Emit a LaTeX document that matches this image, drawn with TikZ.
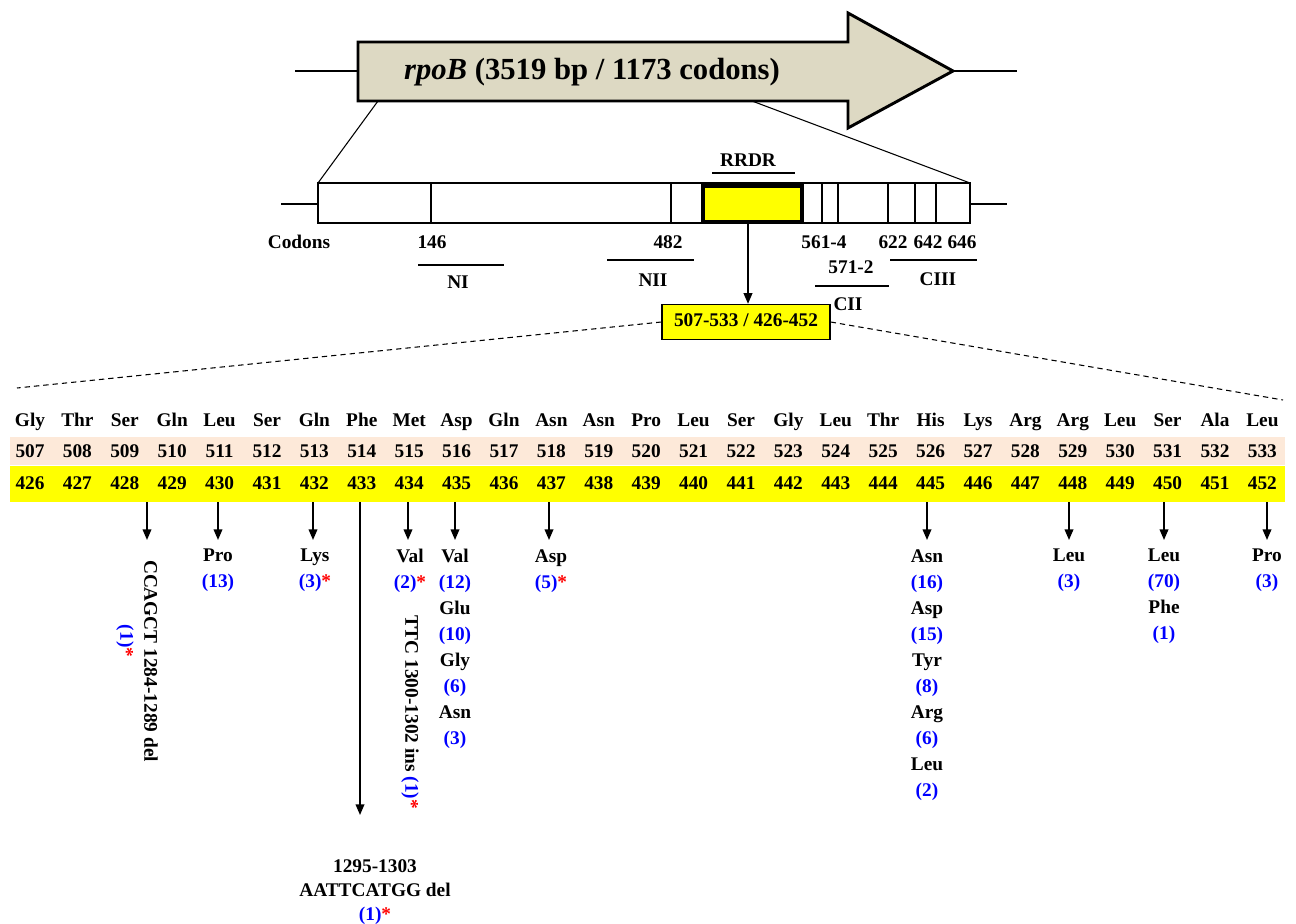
\documentclass[tikz,border=0pt]{standalone}
\usepackage{fontspec}
\setmainfont{Liberation Serif}
\usetikzlibrary{arrows.meta}
\definecolor{tanfill}{RGB}{221,217,195}
\definecolor{peach}{RGB}{253,233,217}
\definecolor{ylw}{RGB}{255,255,0}
\definecolor{cblue}{RGB}{0,0,255}
\definecolor{cred}{RGB}{255,0,0}
\newcommand{\cnt}[1]{\textcolor{cblue}{(#1)}}
\newcommand{\rst}{\textcolor{cred}{*}}
\begin{document}
\begin{tikzpicture}[x=0.75pt,y=-0.75pt,
  lbl/.style={font=\fontsize{14.5}{19.5}\bfseries\selectfont, inner sep=0pt, align=center},
  cell/.style={lbl, text height=10pt, text depth=3pt},
  title/.style={font=\fontsize{23}{27}\bfseries\selectfont, inner sep=0pt},
  thick line/.style={line width=1.8pt},
  thin line/.style={line width=0.8pt},
  arr/.style={line width=1.2pt, -{Triangle[length=8pt,width=6.5pt]}},
  dashline/.style={line width=0.8pt, dash pattern=on 4pt off 3pt}]
\useasboundingbox (0,0) rectangle (1296,924);

% ---- gene arrow ----
\coordinate (gl) at (295,71);
\coordinate (gr) at (1017,71);
\coordinate (ab1) at (358,71);
\coordinate (ab2) at (953,71);
\draw[line width=1.6pt] (gl) -- (ab1);
\draw[line width=1.6pt] (ab2) -- (gr);
\draw[line width=2.2pt, fill=tanfill, line join=miter]
  (358,42) -- (848,42) -- (848,13) -- (953,71) -- (848,128) -- (848,101) -- (358,101) -- cycle;
\node[title] (gname) at (592,72) {\textit{rpoB} (3519 bp / 1173 codons)};

% ---- zoom lines ----
\coordinate (zl1) at (378,101);
\coordinate (zr1) at (752,101);
\coordinate (bl) at (318,183);
\coordinate (br) at (970,183);
\draw[thin line] (zl1) -- (bl);
\draw[thin line] (zr1) -- (br);

% ---- gene map ----
\coordinate (ml) at (281,204);
\coordinate (mr) at (1007,204);
\draw[thick line] (ml) -- (318,204);
\draw[thick line] (970,204) -- (mr);
\fill[ylw] (703,185) rectangle (802,222);
\draw[line width=2.6pt] (703,186) rectangle (802,222);
\draw[thick line] (318,183) rectangle (970,223);
\foreach \xx in {431,671,822,838,888,915,936}
  \draw[line width=1.6pt] (\xx,183) -- (\xx,223);

\node[cell] (rrdr) at (748,162) {RRDR};
\draw[line width=1.6pt] (712,173) -- (795,173);

\node[cell] (codons) at (299,244) {Codons};
\node[cell] (c146) at (432,244) {146};
\node[cell] (c482) at (668,244) {482};
\node[cell] (c561) at (824,244) {561-4};
\node[cell] (c622) at (893,244) {622};
\node[cell] (c642) at (928,244) {642};
\node[cell] (c646) at (962,244) {646};

\draw[line width=1.6pt] (418,265) -- (504,265);
\node[cell] (ni) at (458,284) {NI};
\draw[line width=1.6pt] (607,260) -- (694,260);
\node[cell] (nii) at (653,282) {NII};
\node[cell] (c571) at (851,269) {571-2};
\draw[line width=1.6pt] (815,286) -- (889,286);
\node[cell] (cii) at (848,306) {CII};
\draw[line width=1.6pt] (890,260) -- (977,260);
\node[cell] (ciii) at (938,281) {CIII};

% ---- RRDR box ----
\node[cell, draw, line width=1pt, fill=ylw, minimum width=168*0.75pt, minimum height=35*0.75pt] (rbox) at (746,322) {507-533 / 426-452};
\coordinate (rtop) at (748,223);
\draw[arr] (rtop) -- (rtop |- rbox.north);

\coordinate (dl) at (17,388);
\coordinate (dr) at (1283,400);
\draw[dashline] (rbox.west) -- (dl);
\draw[dashline] (rbox.east) -- (dr);

% ---- table ----
\node[fill=peach, inner sep=0pt, minimum width=1275*0.75pt, minimum height=28*0.75pt] (pband) at (647.5,451) {};
\node[fill=ylw, inner sep=0pt, minimum width=1275*0.75pt, minimum height=36*0.75pt] (yband) at (647.5,484) {};
\foreach \aa [count=\i from 0] in {Gly,Thr,Ser,Gln,Leu,Ser,Gln,Phe,Met,Asp,Gln,Asn,Asn,Pro,Leu,Ser,Gly,Leu,Thr,His,Lys,Arg,Arg,Leu,Ser,Ala,Leu}{
  \pgfmathtruncatemacro\na{507+\i}
  \pgfmathtruncatemacro\nb{426+\i}
  \node[cell] (aa\i) at ({30+47.4*\i},422) {\aa};
  \node[cell] (na\i) at ({30+47.4*\i},453) {\na};
  \node[cell] (nb\i) at ({30+47.4*\i},485) {\nb};
}

% ---- mutations ----
% 428-429 deletion
\coordinate (t428) at (147,540);
\draw[arr] (t428 |- yband.south) -- (t428);
\node[lbl, rotate=-90] (m428) at (151,661) {CCAGCT 1284-1289 del};
\node[lbl, rotate=-90] (m428b) at (125,641) {\cnt{1}\rst};
% 430
\coordinate (t430) at (218,540);
\draw[arr] (t430 |- yband.south) -- (t430);
\node[lbl, anchor=north] (m430) at (218,549) {Pro\\\cnt{13}};
% 432
\coordinate (t432) at (313,540);
\draw[arr] (t432 |- yband.south) -- (t432);
\node[lbl, anchor=north] (m432) at (315,549) {Lys\\\cnt{3}\rst};
% 433 long deletion
\coordinate (t433) at (360,815);
\draw[arr] (t433 |- yband.south) -- (t433);
\node[lbl, anchor=north, font=\fontsize{14.5}{18}\bfseries\selectfont] (m433) at (375,859) {1295-1303\\AATTCATGG del\\\cnt{1}\rst};
% 434
\coordinate (t434) at (408,540);
\draw[arr] (t434 |- yband.south) -- (t434);
\node[lbl, anchor=north] (m434) at (410,549) {Val\\\cnt{2}\rst};
\node[lbl, rotate=-90] (m434b) at (410,712) {TTC 1300-1302 ins \cnt{1}\rst};
% 435
\coordinate (t435) at (455,540);
\draw[arr] (t435 |- yband.south) -- (t435);
\node[lbl, anchor=north] (m435) at (455,549) {Val\\\cnt{12}\\Glu\\\cnt{10}\\Gly\\\cnt{6}\\Asn\\\cnt{3}};
% 437
\coordinate (t437) at (549,540);
\draw[arr] (t437 |- yband.south) -- (t437);
\node[lbl, anchor=north] (m437) at (551,549) {Asp\\\cnt{5}\rst};
% 445
\coordinate (t445) at (927,540);
\draw[arr] (t445 |- yband.south) -- (t445);
\node[lbl, anchor=north] (m445) at (927,549) {Asn\\\cnt{16}\\Asp\\\cnt{15}\\Tyr\\\cnt{8}\\Arg\\\cnt{6}\\Leu\\\cnt{2}};
% 448
\coordinate (t448) at (1069,540);
\draw[arr] (t448 |- yband.south) -- (t448);
\node[lbl, anchor=north] (m448) at (1069,549) {Leu\\\cnt{3}};
% 450
\coordinate (t450) at (1164,540);
\draw[arr] (t450 |- yband.south) -- (t450);
\node[lbl, anchor=north] (m450) at (1164,549) {Leu\\\cnt{70}\\Phe\\\cnt{1}};
% 452
\coordinate (t452) at (1267,540);
\draw[arr] (t452 |- yband.south) -- (t452);
\node[lbl, anchor=north] (m452) at (1267,549) {Pro\\\cnt{3}};
\end{tikzpicture}
\end{document}
